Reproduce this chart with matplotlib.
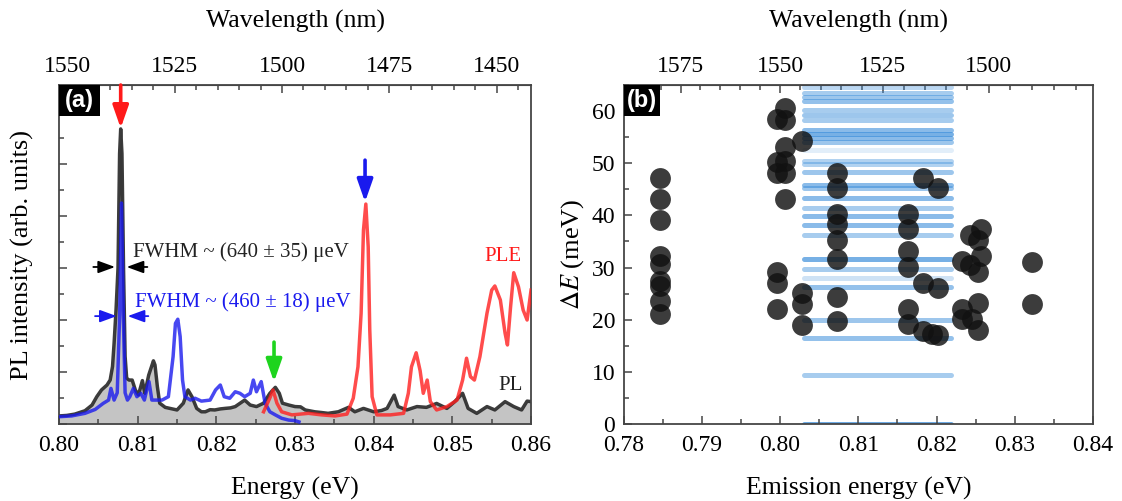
import matplotlib
matplotlib.use('Agg')
import matplotlib.pyplot as plt
import numpy as np
from matplotlib.ticker import MultipleLocator, FixedLocator, NullFormatter, FormatStrFormatter
from matplotlib.patches import Rectangle

plt.rcParams['font.family'] = ['Liberation Serif', 'DejaVu Serif']
plt.rcParams['mathtext.fontset'] = 'stix'
plt.rcParams['font.size'] = 17

HC = 1240.0  # eV*nm

# ---- (a) spectra: PL (black), second PL (blue), PLE (red) ----
pl_E = [0.8000, 0.8010, 0.8020, 0.8033, 0.8042, 0.8048, 0.8054, 0.8061, 0.8065,
        0.8068, 0.8070, 0.80725, 0.8075, 0.8077, 0.80784, 0.8080, 0.8082, 0.8084,
        0.8086, 0.8089, 0.8093, 0.8097, 0.8101, 0.8106, 0.8109, 0.8114, 0.8120,
        0.8122, 0.8125, 0.8128, 0.8135, 0.8141, 0.8150, 0.8158, 0.8164, 0.8169,
        0.8175, 0.8181, 0.8186, 0.8192, 0.8198, 0.8205, 0.8211, 0.8218, 0.8224,
        0.8236, 0.8243, 0.8251, 0.8260, 0.8268, 0.8275, 0.8280, 0.8284, 0.8292,
        0.8300, 0.8307, 0.8313, 0.8325, 0.8334, 0.8342, 0.8355, 0.8368, 0.8376,
        0.8387, 0.8400, 0.8410, 0.8417, 0.8426, 0.8431, 0.8442, 0.8455, 0.8467,
        0.8480, 0.8493, 0.8503, 0.8513, 0.8520, 0.8531, 0.8544, 0.8554, 0.8567,
        0.8578, 0.8588, 0.8595, 0.8600]
pl_I = [0.31, 0.33, 0.38, 0.51, 0.73, 1.05, 1.31, 1.50, 1.69,
        2.21, 3.10, 4.40, 6.00, 10.40, 11.35, 10.40, 6.00, 2.60,
        1.76, 1.69, 1.69, 1.31, 1.12, 1.67, 1.18, 1.88, 2.43,
        2.27, 1.44, 0.80, 0.64, 0.60, 0.54, 0.80, 1.31, 1.05,
        0.60, 0.47, 0.47, 0.55, 0.54, 0.58, 0.60, 0.62, 0.67,
        0.92, 0.73, 0.67, 0.80, 1.18, 1.41, 1.18, 0.80, 0.73,
        0.67, 0.66, 0.54, 0.47, 0.44, 0.41, 0.47, 0.64, 0.47,
        0.60, 0.47, 0.52, 0.60, 1.11, 0.67, 0.54, 0.67, 0.64,
        0.79, 0.60, 0.86, 1.18, 0.60, 0.41, 0.67, 0.54, 0.86,
        0.67, 0.54, 0.88, 0.86]

bl_E = [0.8000, 0.8016, 0.8033, 0.8046, 0.8056, 0.8063, 0.8066, 0.8070, 0.8074,
        0.80771, 0.80794, 0.80817, 0.8084, 0.8087, 0.8090, 0.80945, 0.8099, 0.8104,
        0.81085, 0.81115, 0.81144, 0.8118, 0.8124, 0.8131, 0.8139, 0.8145, 0.8148,
        0.8151, 0.8154, 0.8157, 0.8160, 0.8167, 0.8173, 0.8181, 0.8192, 0.8199,
        0.8205, 0.8210, 0.8217, 0.8224, 0.8230, 0.8236, 0.8243, 0.8247, 0.8251,
        0.8257, 0.8262, 0.8268, 0.8275, 0.8283, 0.8292, 0.8300, 0.8305]
bl_I = [0.28, 0.31, 0.41, 0.56, 0.79, 0.92, 1.37, 0.92, 1.20,
        4.20, 8.50, 4.20, 1.20, 0.92, 1.05, 1.37, 1.05, 1.18,
        0.92, 1.31, 1.63, 0.92, 0.92, 0.92, 1.05, 2.59, 3.87,
        4.03, 3.36, 1.69, 1.05, 0.92, 0.99, 0.88, 0.92, 1.31,
        1.50, 1.05, 0.99, 1.24, 1.18, 1.05, 1.18, 1.69, 1.24,
        1.63, 0.80, 0.47, 0.35, 0.22, 0.15, 0.13, 0.08]

ple_E = [0.8260, 0.8268, 0.8272, 0.8277, 0.8283, 0.8296, 0.8317, 0.8334, 0.8351,
         0.8366, 0.8374, 0.8380, 0.8384, 0.8387, 0.8390, 0.8393, 0.8395, 0.8398,
         0.8404, 0.8421, 0.8438, 0.8444, 0.8448, 0.8454, 0.8459, 0.8463, 0.8468,
         0.8472, 0.8480, 0.8493, 0.8506, 0.8513, 0.8518, 0.8523, 0.8528, 0.8535,
         0.8544, 0.8550, 0.8554, 0.8561, 0.8567, 0.8570, 0.8574, 0.8578, 0.8584,
         0.8590, 0.8595, 0.8600]
ple_I = [0.47, 1.00, 1.31, 0.80, 0.47, 0.35, 0.41, 0.35, 0.31,
         0.38, 0.99, 2.20, 4.26, 7.46, 8.46, 6.82, 3.62, 1.05,
         0.35, 0.35, 0.41, 1.18, 2.20, 2.74, 2.05, 1.18, 1.69,
         0.86, 0.54, 0.67, 0.92, 1.69, 2.53, 1.82, 1.69, 2.59,
         4.26, 5.15, 5.31, 4.77, 3.49, 3.04, 4.51, 5.82, 5.28,
         4.38, 4.00, 5.15]

# top scale of (a): wavelength drawn linear in energy
lam_at_080 = 1552.0      # nm at 0.80 eV
lam_per_ev = 1834.2      # nm per eV

# ---- (b) emission energy vs. energy splitting ----
em_E = [0.7846, 0.7846, 0.7846, 0.7846, 0.7846, 0.7846, 0.7846, 0.7846, 0.7846,
        0.7996, 0.7996, 0.7996, 0.7996, 0.7996, 0.7996,
        0.8006, 0.8006, 0.8006, 0.8006, 0.8006, 0.8006,
        0.8028, 0.8028, 0.8028, 0.8028,
        0.8073, 0.8073, 0.8073, 0.8073, 0.8073, 0.8073, 0.8073, 0.8073,
        0.8163, 0.8163, 0.8163, 0.8163, 0.8163, 0.8163,
        0.8183, 0.8202, 0.8183, 0.8202, 0.8183, 0.8194, 0.8202,
        0.8232, 0.8243, 0.8257, 0.8253, 0.8257, 0.8243, 0.8253,
        0.8232, 0.8253, 0.8232, 0.8245, 0.8253,
        0.8322, 0.8322]
dE = [47.2, 43.2, 39.2, 32.2, 30.7, 27.5, 26.5, 23.6, 21.0,
      58.4, 50.3, 48.2, 29.1, 27.0, 22.1,
      60.5, 58.2, 53.2, 50.4, 48.1, 43.2,
      54.3, 25.2, 23.0, 19.0,
      48.2, 45.3, 40.3, 38.4, 35.2, 31.7, 24.3, 19.7,
      40.3, 37.3, 33.1, 30.2, 22.1, 19.1,
      47.2, 45.3, 27.0, 26.1, 17.8, 17.2, 17.0,
      31.3, 36.2, 37.3, 35.2, 32.2, 30.4, 29.1,
      22.1, 23.2, 20.2, 20.2, 18.0,
      31.1, 23.1]

# excited-state energies of the PLE resonances (meV) and their weights
res_dE = [64.6, 63.5, 62.7, 61.9, 60.3, 59.3, 58.2, 56.3, 55.6, 54.8, 54.0, 52.5,
          50.5, 49.8, 48.3, 45.9, 45.3, 43.4, 41.4, 39.9, 38.2, 36.3, 31.7, 29.8,
          28.0, 26.2, 19.9, 16.5, 9.3, 0.0]
res_w = [0.35, 0.45, 0.50, 0.55, 0.45, 0.50, 0.45, 0.60, 0.70, 0.60, 0.50, 0.15,
         0.40, 0.40, 0.50, 0.60, 0.50, 0.60, 0.45, 0.60, 0.60, 0.45, 0.70, 0.45,
         0.25, 0.55, 0.50, 0.55, 0.45, 0.75]
res_span = [0.8031, 0.8219]


def ev2nm(x):
    x = np.asarray(x, dtype=float)
    with np.errstate(divide='ignore'):
        return HC / x


def ev2nm_lin(x):
    return lam_at_080 - (np.asarray(x, dtype=float) - 0.80) * lam_per_ev


def nm2ev_lin(l):
    return 0.80 + (lam_at_080 - np.asarray(l, dtype=float)) / lam_per_ev


FRAME = '#454545'

fig = plt.figure(figsize=(11.22, 5.01), dpi=100)
axa = fig.add_axes([0.0526, 0.1537, 0.4207, 0.6766])
axb = fig.add_axes([0.5558, 0.1537, 0.4184, 0.6766])


def style_ticks(a):
    a.tick_params(which='both', direction='in', color=FRAME, width=1.1,
                  labelsize=17, pad=6)
    a.tick_params(which='major', length=6)
    a.tick_params(which='minor', length=3.5)


for ax in (axa, axb):
    for sp in ax.spines.values():
        sp.set_color(FRAME)
        sp.set_linewidth(1.3)
    style_ticks(ax)
    ax.tick_params(which='both', top=False, right=False)
    ax.tick_params(axis='x', which='both', pad=8)

# ---------------- panel (a) ----------------
axa.fill_between(pl_E, 0, pl_I, color='#c4c4c4', lw=0, zorder=1)
axa.plot(pl_E, pl_I, color='#2b2b2b', lw=2.5, alpha=0.92, zorder=2)
axa.plot(bl_E, bl_I, color='#1a1aee', lw=2.5, alpha=0.8, zorder=3)
axa.plot(ple_E, ple_I, color='#ff1f1f', lw=2.5, alpha=0.8, zorder=4)

axa.set_xlim(0.80, 0.86)
axa.set_ylim(0, 13.04)
axa.xaxis.set_major_locator(MultipleLocator(0.01))
axa.xaxis.set_minor_locator(MultipleLocator(0.005))
axa.xaxis.set_major_formatter(FormatStrFormatter('%.2f'))
axa.yaxis.set_major_locator(MultipleLocator(2))
axa.yaxis.set_minor_locator(MultipleLocator(1))
axa.yaxis.set_major_formatter(NullFormatter())
axa.set_xlabel('Energy (eV)', fontsize=18.5, labelpad=15)
axa.set_ylabel('PL intensity (arb. units)', fontsize=19, labelpad=12)

seca = axa.secondary_xaxis('top', functions=(ev2nm_lin, nm2ev_lin))
seca.set_xticks([1550, 1525, 1500, 1475, 1450])
seca.xaxis.set_minor_locator(FixedLocator(np.arange(1445, 1552, 5)))
style_ticks(seca)
seca.set_xlabel('Wavelength (nm)', fontsize=18.5, labelpad=20)
seca.spines['top'].set_color(FRAME)

arr = dict(lw=2.6, shrinkA=0, shrinkB=0)
axa.annotate('', xy=(0.80784, 11.38), xytext=(0.80784, 13.04),
             arrowprops=dict(arrowstyle='-|>,head_width=0.28,head_length=0.8',
                             color='#ff1a1a', **arr),
             annotation_clip=False, zorder=6)
axa.annotate('', xy=(0.8389, 8.54), xytext=(0.8389, 10.15),
             arrowprops=dict(arrowstyle='-|>,head_width=0.28,head_length=0.8',
                             color='#1a1aee', **arr), zorder=6)
axa.annotate('', xy=(0.82733, 1.62), xytext=(0.82733, 3.15),
             arrowprops=dict(arrowstyle='-|>,head_width=0.28,head_length=0.8',
                             color='#1ed41e', **arr), zorder=6)

small = dict(lw=1.3, shrinkA=0, shrinkB=0)
hs = '-|>,head_width=0.22,head_length=0.6'
axa.annotate('', xy=(0.80712, 6.04), xytext=(0.80436, 6.04),
             arrowprops=dict(arrowstyle=hs, color='black', **small), zorder=6)
axa.annotate('', xy=(0.8086, 6.04), xytext=(0.81123, 6.04),
             arrowprops=dict(arrowstyle=hs, color='black', **small), zorder=6)
axa.annotate('', xy=(0.80733, 4.15), xytext=(0.80458, 4.15),
             arrowprops=dict(arrowstyle=hs, color='#1a1aee', **small), zorder=6)
axa.annotate('', xy=(0.80873, 4.15), xytext=(0.81135, 4.15),
             arrowprops=dict(arrowstyle=hs, color='#1a1aee', **small), zorder=6)

axa.text(0.80940, 6.6, 'FWHM ~ (640 ± 35) μeV', color='#222222', fontsize=15,
         va='center', ha='left')
axa.text(0.80965, 4.7, 'FWHM ~ (460 ± 18) μeV', color='#1a1aee', fontsize=15,
         va='center', ha='left')
axa.text(0.8588, 6.46, 'PLE', color='#ff1a1a', fontsize=15, va='center', ha='right')
axa.text(0.8590, 1.5, 'PL', color='#222222', fontsize=15, va='center', ha='right')

# ---------------- panel (b) ----------------
base = np.array([0.24, 0.56, 0.86])
colors = [(*base, w) for w in res_w]
lc = axb.hlines(res_dE, res_span[0], res_span[1], colors=colors, lw=3.6, zorder=1)
lc.set_capstyle('round')
axb.scatter(em_E, dE, s=225, color='#111111', alpha=0.82, lw=0, zorder=3)

axb.set_xlim(0.78, 0.84)
axb.set_ylim(0, 65)
axb.xaxis.set_major_locator(MultipleLocator(0.01))
axb.xaxis.set_minor_locator(MultipleLocator(0.005))
axb.xaxis.set_major_formatter(FormatStrFormatter('%.2f'))
axb.yaxis.set_major_locator(MultipleLocator(10))
axb.yaxis.set_minor_locator(MultipleLocator(5))
axb.set_xlabel('Emission energy (eV)', fontsize=18.5, labelpad=15)
axb.set_ylabel(r'$\Delta E$ (meV)', fontsize=19, labelpad=4)

secb = axb.secondary_xaxis('top', functions=(ev2nm, ev2nm))
secb.set_xticks([1575, 1550, 1525, 1500])
secb.xaxis.set_minor_locator(FixedLocator(np.arange(1480, 1591, 5)))
style_ticks(secb)
secb.set_xlabel('Wavelength (nm)', fontsize=18.5, labelpad=20)
secb.spines['top'].set_color(FRAME)

# panel tags
for ax, tag, w in ((axa, '(a)', 0.087), (axb, '(b)', 0.077)):
    ax.add_patch(Rectangle((0, 1 - 0.09), w, 0.09, transform=ax.transAxes,
                           facecolor='black', edgecolor='none', zorder=8,
                           clip_on=False))
    ax.text(w / 2, 1 - 0.045, tag, transform=ax.transAxes, color='white',
            fontsize=17, fontweight='bold', family='Liberation Sans',
            ha='center', va='center', zorder=9)

fig.savefig('out.png', dpi=100)
